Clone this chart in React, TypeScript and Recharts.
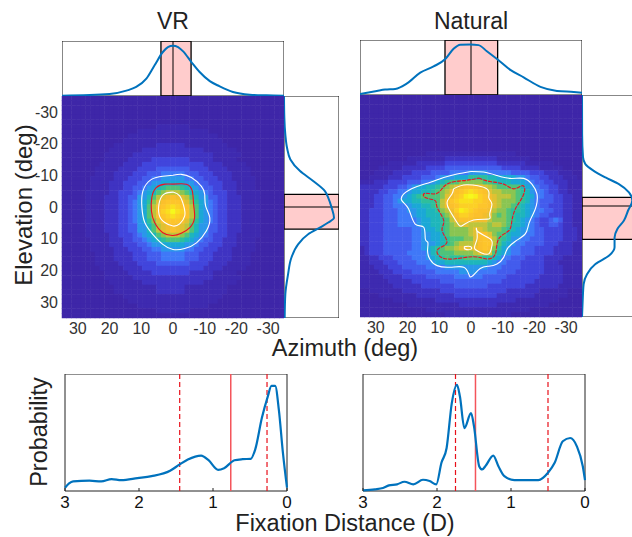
import {
  ScatterChart,
  Scatter,
  LineChart,
  Line,
  XAxis,
  YAxis,
  ReferenceLine,
  ReferenceArea,
} from "recharts";

// heat levels, one char per cell, 0-9 then a-k (rows run from el -35 to +35, columns from az +35 to -35)
const Z = "00000000000000000000000000000000000000000000000";
const VR_ROWS = [
  Z, Z, Z, Z, Z, Z,
  "00000000000000000000111111100000000000000000000",
  "00000000000000001111111111111110000000000000000",
  "00000000000000111111111111111111100000000000000",
  "00000000000001111111111111111111110000000000000",
  "00000000000111111111222222111111111000000000000",
  "00000000001111111222222222222211111110000000000",
  "00000000011111122222222222222222111111000000000",
  "00000000011111222223333333322222111110000000000",
  "00000000111112222333333333333322221111100000000",
  "00000001111122223333444444433332222111110000000",
  "00000001111222233344455555444333222211110000000",
  "00000011111222333445566666554433322211111000000",
  "00000011112223334456677777665443332221111000000",
  "0000001111222334456789aaa9876544332221111000000",
  "00000111112233345678abcccba87654333221111100000",
  "0000011112223344668acdefedca8664433222111100000",
  "0000011112223345679bdfgggfdb9765433222111100000",
  "000001111222334567acfghihgfca765433222111100000",
  "000001111222334567acfhikihfca765433222111100000",
  "000001111222334567acfghihgfca765433222111100000",
  "0000011112223345679bdfgggfdb9765433222111100000",
  "0000011112223344668acdefedca8664433222111100000",
  "0000011112223344668acdefedca8664433222111100000",
  "00000111112233345678abcccba87654333221111100000",
  "0000001111222334456789aaa9876544332221111000000",
  "00000011112223334456677777665443332221111000000",
  "00000011111222333445566666554433322211111000000",
  "00000001111222233344455555444333222211110000000",
  "00000001111222233344455555444333222211110000000",
  "00000001111122223333444444433332222111110000000",
  "00000000111112222333333333333322221111100000000",
  "00000000011111222223333333322222111110000000000",
  "00000000011111122222222222222222111111000000000",
  "00000000001111111222222222222211111110000000000",
  "00000000000111111111222222111111111000000000000",
  "00000000000111111111222222111111111000000000000",
  "00000000000001111111111111111111110000000000000",
  "00000000000000111111111111111111100000000000000",
  "00000000000000001111111111111110000000000000000",
  "00000000000000000000111111100000000000000000000",
  Z,
];
const NATURAL_ROWS = [
  Z, Z, Z, Z, Z, Z, Z, Z, Z, Z, Z, Z,
  "00000000000000111111111111111111100000000000000",
  "00000000001111111122222222222111111100000000000",
  "00000011111122222233333333333222222111111000000",
  "00001111122222333344444444444433332222111110000",
  "00011112222333344445555666655555444433322211100",
  "00111122233334445666777999988777766544332221110",
  "1112223333444556789aabbbbbaa9888777654433222111",
  "22222333445677889abcdefffedcbaaaaa8765443322111",
  "2222334455677889abcefghihgfdccbbba9865543322111",
  "2223344556789aaaabdeghjkjhgedcccba9875544332211",
  "2223344567788999aceghiiihhgfdcbbba9865444332211",
  "2223344555677889acefghhhhggfdcbba98765443332211",
  "22333444556677889bcehjihgffecbba998765544332211",
  "22333444555677888abdfhhgffedbaba988765443332211",
  "223334445555677889acefffeeecbbba987654334542211",
  "223334445555677889abcddccccbccba887654334432211",
  "223334444445567789abbbbcddcbbba9876654433332221",
  "223334444445566778abbbbcdffdbaa8776554433332221",
  "2233344444455667789aaabbdfgfca98665544433332221",
  "2233344444455666789abcccdfggca87655444433322211",
  "12333444444556789abbcdedefgfb976554443333222211",
  "12333444445555689aaabbbbcdeda876554443333222211",
  "112233344445556789a999aaaa998755444333322221111",
  "11222333444455567788888888876554443333322211111",
  "11122233344444555566666666655544443333322221111",
  "11112223333444445555566665555444433333322221111",
  "11111222233333444444555555444443333333222221111",
  "11111122222333333444444444444433333332222221111",
  "11111112222223333333444444433333333222222211111",
  "00111111122222222333333333333332222222111111000",
  "00001111111122222222333333333222222221111111000",
  "00000001111111112222222222222222211111111100000",
  "00000000001111111111122222222111111111110000000",
  "00000000000000111111111111111111111100000000000",
  "00000000000000000011111111111111000000000000000",
];
const PALETTE = [
  "#3e26a8", "#3e2ab0", "#3f33c2", "#4145dc", "#435ced", "#3f78f8", "#2a97ea",
  "#1ba8d6", "#1eb6bb", "#2ebf9c", "#4fc37a", "#8ac552", "#bdc53c", "#e0c132",
  "#f2be2e", "#fbc02c", "#fdc52b", "#fcd025", "#fadf1e", "#f8ee18", "#f6f91b",
];

// contours as [azimuth, elevation]
const VR_OUTER = [[0,-10],[-2.6,-10.3],[-5.8,-9.3],[-8.9,-6.6],[-10,-4],[-10.3,-0.3],[-11.6,3.4],[-10.5,7.6],[-7.4,11.3],[-3.7,13.1],[0,13.4],[3.2,11.8],[6.3,8.7],[8.9,4.9],[9.8,0.2],[9.5,-5],[6.8,-8.7],[3.2,-9.7],[0,-10]];
const VR_RED = [[0,-7.2],[-4.2,-7.2],[-6.1,-5],[-6.5,-0.8],[-6.8,3.4],[-5.3,6.5],[-2.6,8.3],[0,9],[3.2,8.1],[5.8,4.9],[6.8,1.3],[6.7,-2.9],[5.3,-6.1],[2.6,-7.2],[0,-7.2]];
const VR_INNER = [[0,-4.7],[-2.1,-3.5],[-3.4,-0.3],[-3.7,2.8],[-2.1,5.3],[0,6],[2.6,4.9],[4.4,2.3],[4.2,-1.9],[2.6,-4.2],[0,-4.7]];
const NAT_OUTER = [[0,-10.9],[-4,-10.7],[-8.2,-9.6],[-12.4,-8.7],[-16.6,-8.7],[-19.2,-6.9],[-20.8,-3.8],[-20.6,-0.1],[-19.6,2.5],[-18.2,5.7],[-17.1,8.8],[-14,11.1],[-11.4,13.6],[-10.3,16.2],[-8.2,18.3],[-5.6,19],[-2.9,19.7],[-0.3,22.2],[0.7,21.5],[2.3,19.3],[6.5,19.3],[10.7,18.8],[13,16.7],[13.7,14.1],[13.6,11.5],[14.4,10.4],[14.9,6.7],[17.6,5.7],[19.7,0.9],[21.8,-1.7],[21.2,-3.8],[17.6,-5.9],[12.8,-7.5],[8.6,-9],[4.4,-10.1],[0,-10.9]];
const NAT_RED = [[-2.4,-8.8],[-6.1,-7.7],[-10.3,-6.9],[-13.5,-5.4],[-16.1,-6.4],[-16.9,-4.8],[-15.6,-1.7],[-14,0.9],[-12.9,4.6],[-11.9,7.8],[-8.7,10.4],[-7.7,15.1],[-5,16.7],[-0.8,16],[5.5,16.7],[9.7,16],[10.4,13.6],[7.6,11.5],[9.1,7.8],[8.6,4.6],[10.7,0.4],[11.3,-1.7],[14.4,-2.7],[14.4,-4],[10.7,-4],[7.6,-6.9],[2.3,-8],[-2.4,-8.8]];
const NAT_INNER_A = [[5.5,-5.4],[1.3,-6.7],[-5,-5.4],[-5.6,-2.7],[-6.6,-0.6],[-5.9,2.5],[-5.6,4.1],[-0.8,4.4],[2.8,6.2],[4.4,5.2],[7,0.9],[7.4,-1.7],[6,-3.8],[5.5,-5.4]];
const NAT_INNER_B = [[-1.7,6.9],[-2.4,8.3],[-6.1,10.4],[-6.6,12.5],[-5.6,15.1],[-2.9,14.6],[-1.1,13.2],[-1.9,10.4],[-1.7,6.9]];
const NAT_INNER_C = [[2.1,12.8],[0.2,12.8],[0,13.6],[1.8,13.6],[2.1,12.8]];

// marginals [position, value]
const VR_TOP = [[35,.006],[20,.036],[14.7,.097],[11.6,.164],[8.4,.315],[5.8,.558],[3.2,.8],[1.6,.89],[0,.915],[-1.6,.89],[-3.2,.812],[-5.8,.618],[-8.4,.436],[-11.6,.27],[-14.7,.176],[-18.9,.073],[-24.2,.024],[-29.4,.012],[-35,.006]];
const NAT_TOP = [[35,.02],[29.7,.074],[27.1,.099],[23.9,.111],[20.2,.21],[16,.407],[11.8,.519],[8.1,.654],[5.5,.84],[3.4,.914],[.2,.92],[-2.4,.907],[-5,.796],[-8.2,.654],[-12.4,.457],[-16.6,.321],[-21.9,.148],[-27.1,.074],[-32.4,.056],[-35,.043]];
const VR_SIDE = [[-35,0],[-28.2,.006],[-22.9,.024],[-18.7,.055],[-15,.116],[-11.4,.287],[-8.2,.53],[-5,.744],[-2.9,.805],[.2,.866],[3.4,.909],[4.9,.805],[6.5,.652],[8.6,.439],[11.8,.256],[16,.134],[21.3,.073],[27.6,.024],[35,.012]];
const NAT_SIDE = [[-35,0],[-22.7,.002],[-15.4,.018],[-13.2,.061],[-11.1,.213],[-9,.427],[-6.9,.671],[-4.3,.854],[-1.7,.915],[1.5,.836],[4.6,.763],[7.3,.641],[9.9,.592],[13,.592],[15.7,.488],[18.3,.244],[21.5,.091],[24.6,.03],[29.9,.012],[35,0]];

// fixation distance [D, probability]
const VR_DIST = [[3,.028],[2.945,.065],[2.89,.082],[2.67,.088],[2.51,.082],[2.37,.102],[2.24,.093],[2.02,.11],[1.83,.127],[1.58,.173],[1.45,.227],[1.34,.269],[1.16,.303],[1.06,.263],[.93,.181],[.85,.195],[.71,.263],[.6,.272],[.49,.275],[.43,.354],[.34,.623],[.26,.807],[.21,.898],[.16,.898],[.11,.694],[.055,.326],[0,.028]];
const NAT_DIST = [[3,.006],[2.84,.014],[2.73,.025],[2.65,.048],[2.54,.057],[2.44,.079],[2.32,.057],[2.19,.096],[2.1,.085],[2.01,.057],[1.94,.241],[1.87,.368],[1.8,.751],[1.73,.907],[1.69,.807],[1.63,.538],[1.54,.666],[1.5,.552],[1.43,.212],[1.39,.184],[1.34,.218],[1.24,.303],[1.17,.212],[1.09,.127],[.955,.093],[.82,.093],[.63,.093],[.5,.156],[.41,.241],[.3,.425],[.2,.453],[.11,.382],[.03,.212],[0,.093]];

const ANGLE_TICKS = [-30, -20, -10, 0, 10, 20, 30];
const DIST_TICKS = [3, 2, 1, 0];
const CELLS = 47;
const PLOT = 222;
const CELL_PX = PLOT / CELLS + 0.5;
const BLUE = "#0072bd";
const TICK_TEXT = { fontSize: 16, fill: "#333" };

const toCells = (rows: string[]) =>
  rows.flatMap((row, j) =>
    row.split("").map((ch, i) => ({
      az: 35 - ((i + 0.5) * 70) / CELLS,
      el: -35 + ((j + 0.5) * 70) / CELLS,
      level: parseInt(ch, 36),
    })),
  );
const toXY = (pts: number[][]) => pts.map(([az, el]) => ({ az, el }));

const HeatCell = (p: any) => (
  <rect
    x={p.cx - CELL_PX / 2}
    y={p.cy - CELL_PX / 2}
    width={CELL_PX}
    height={CELL_PX}
    fill={PALETTE[p.payload.level]}
  />
);
const NoDot = () => <g />;

function Contour({ pts, color, dash }: { pts: number[][]; color: string; dash?: string }) {
  return (
    <Scatter
      data={toXY(pts)}
      shape={NoDot}
      line={{ stroke: color, strokeWidth: 1.1, strokeDasharray: dash }}
      lineType="joint"
      lineJointType="natural"
      isAnimationActive={false}
    />
  );
}

function Heat({ left, top, rows, labels, children }: any) {
  const axisW = labels ? 35 : 0;
  return (
    <div style={{ position: "absolute", left: left - axisW, top }}>
      <ScatterChart
        width={PLOT + axisW}
        height={PLOT + 28}
        margin={{ top: 0, right: 0, bottom: 0, left: 0 }}
      >
        <XAxis
          dataKey="az"
          type="number"
          domain={[-35, 35]}
          reversed
          ticks={ANGLE_TICKS}
          height={28}
          tick={TICK_TEXT}
          tickSize={-3}
          tickMargin={8}
          interval={0}
          axisLine={false}
          stroke="#222"
        />
        <YAxis
          dataKey="el"
          type="number"
          domain={[-35, 35]}
          reversed
          ticks={ANGLE_TICKS}
          width={axisW}
          tick={labels ? TICK_TEXT : false}
          tickSize={-3}
          tickMargin={7}
          interval={0}
          axisLine={false}
          stroke="#222"
        />
        <Scatter data={toCells(rows)} shape={HeatCell} isAnimationActive={false} />
        {children}
        <ReferenceLine x={0} stroke="#fff" strokeWidth={1.3} />
        <ReferenceLine y={0} stroke="#fff" strokeWidth={1.3} />
      </ScatterChart>
    </div>
  );
}

function TopMarginal({ left, top, pts, band }: any) {
  return (
    <div style={{ position: "absolute", left, top }}>
      <LineChart
        width={PLOT}
        height={55}
        data={pts.map(([az, v]: number[]) => ({ az, v }))}
        margin={{ top: 0, right: 0, bottom: 0, left: 0 }}
      >
        <XAxis dataKey="az" type="number" domain={[-35, 35]} reversed ticks={ANGLE_TICKS} height={0} tick={false} tickSize={-3} axisLine={false} stroke="#222" />
        <XAxis xAxisId="t" orientation="top" type="number" domain={[-35, 35]} reversed ticks={ANGLE_TICKS} height={0} tick={false} tickSize={-3} axisLine={false} stroke="#222" />
        <YAxis hide domain={[0, 1]} />
        <ReferenceArea x1={band[0]} x2={band[1]} y1={0} y2={1} fill="#ffcccc" fillOpacity={1} stroke="#000" strokeWidth={1.3} />
        <ReferenceArea x1={-35} x2={35} y1={0} y2={1} fill="none" stroke="#111" strokeWidth={1} />
        <ReferenceLine x={0} stroke="#000" strokeWidth={1} />
        <Line dataKey="v" type="monotone" stroke={BLUE} strokeWidth={2} dot={false} isAnimationActive={false} />
      </LineChart>
    </div>
  );
}

function SideMarginal({ left, top, pts, band }: any) {
  return (
    <div style={{ position: "absolute", left, top }}>
      <LineChart
        layout="vertical"
        width={55}
        height={PLOT}
        data={pts.map(([el, v]: number[]) => ({ el, v }))}
        margin={{ top: 0, right: 0, bottom: 0, left: 0 }}
      >
        <XAxis hide type="number" domain={[0, 1]} />
        <YAxis dataKey="el" type="number" domain={[-35, 35]} ticks={ANGLE_TICKS} width={0} tick={false} tickSize={-3} axisLine={false} stroke="#222" />
        <YAxis yAxisId="r" orientation="right" type="number" domain={[-35, 35]} ticks={ANGLE_TICKS} width={0} tick={false} tickSize={-3} axisLine={false} stroke="#222" />
        <ReferenceArea x1={0} x2={1} y1={band[0]} y2={band[1]} fill="#ffcccc" fillOpacity={1} stroke="#000" strokeWidth={1.3} />
        <ReferenceArea x1={0} x2={1} y1={-35} y2={35} fill="none" stroke="#111" strokeWidth={1} />
        <ReferenceLine y={0} stroke="#000" strokeWidth={1} />
        <Line dataKey="v" type="monotone" stroke={BLUE} strokeWidth={2} dot={false} isAnimationActive={false} />
      </LineChart>
    </div>
  );
}

function Distance({ left, pts, dashed, solid }: any) {
  return (
    <div style={{ position: "absolute", left: left - 10, top: 374 }}>
      <LineChart
        width={PLOT + 20}
        height={145}
        data={pts.map(([d, p]: number[]) => ({ d, p }))}
        margin={{ top: 0, right: 10, bottom: 0, left: 10 }}
      >
        <XAxis
          dataKey="d"
          type="number"
          domain={[0, 3]}
          reversed
          ticks={DIST_TICKS}
          interval={0}
          height={28}
          tick={{ fontSize: 17, fill: "#111" }}
          tickSize={-3}
          tickMargin={8}
          axisLine={false}
          stroke="#222"
        />
        <YAxis hide domain={[0, 1]} />
        <ReferenceArea x1={0} x2={3} y1={0} y2={1} fill="none" stroke="#222" strokeWidth={1} />
        {dashed.map((d: number) => (
          <ReferenceLine key={d} x={d} stroke="#e8101a" strokeWidth={1.2} strokeDasharray="5 3" />
        ))}
        <ReferenceLine x={solid} stroke="#f4545a" strokeWidth={1.5} />
        <Line dataKey="p" type="monotone" stroke={BLUE} strokeWidth={2.2} dot={false} isAnimationActive={false} />
      </LineChart>
    </div>
  );
}

function Label({ x, y, size, rotate, children }: any) {
  return (
    <div
      style={{
        position: "absolute",
        left: x,
        top: y,
        fontSize: size,
        color: "#222",
        whiteSpace: "nowrap",
        lineHeight: 1,
        transform: `translate(-50%, -50%)${rotate ? " rotate(-90deg)" : ""}`,
      }}
    >
      {children}
    </div>
  );
}

export default function App() {
  return (
    <div
      style={{
        position: "absolute",
        left: 0,
        top: 0,
        width: 632,
        height: 537,
        overflow: "hidden",
        background: "#fff",
        fontFamily: "'Liberation Sans', Arial, sans-serif",
      }}
    >
      <Label x={173} y={21} size={23}>VR</Label>
      <Label x={471} y={21} size={23}>Natural</Label>
      <Label x={24} y={205} size={24} rotate>Elevation (deg)</Label>
      <Label x={345} y={348.5} size={23.5}>Azimuth (deg)</Label>
      <Label x={40} y={432} size={23.5} rotate>Probability</Label>
      <Label x={345} y={524} size={23.5}>Fixation Distance (D)</Label>

      <TopMarginal left={62} top={41} pts={VR_TOP} band={[3.8, -5.7]} />
      <TopMarginal left={360} top={40} pts={NAT_TOP} band={[8.2, -8.4]} />
      <SideMarginal left={284} top={96} pts={VR_SIDE} band={[-4, 7]} />
      <SideMarginal left={582} top={95} pts={NAT_SIDE} band={[-2.7, 10.5]} />

      <Heat left={62} top={96} rows={VR_ROWS} labels>
        <Contour pts={VR_OUTER} color="#fff" />
        <Contour pts={VR_RED} color="#f01020" />
        <Contour pts={VR_INNER} color="#fff" />
      </Heat>
      <Heat left={360} top={95} rows={NATURAL_ROWS}>
        <Contour pts={NAT_OUTER} color="#fff" />
        <Contour pts={NAT_RED} color="#f01020" dash="4 1" />
        <Contour pts={NAT_INNER_A} color="#fff" />
        <Contour pts={NAT_INNER_B} color="#fff" />
        <Contour pts={NAT_INNER_C} color="#fff" />
      </Heat>

      <Distance left={65} pts={VR_DIST} dashed={[1.45, 0.27]} solid={0.76} />
      <Distance left={363} pts={NAT_DIST} dashed={[1.75, 0.5]} solid={1.48} />
    </div>
  );
}
